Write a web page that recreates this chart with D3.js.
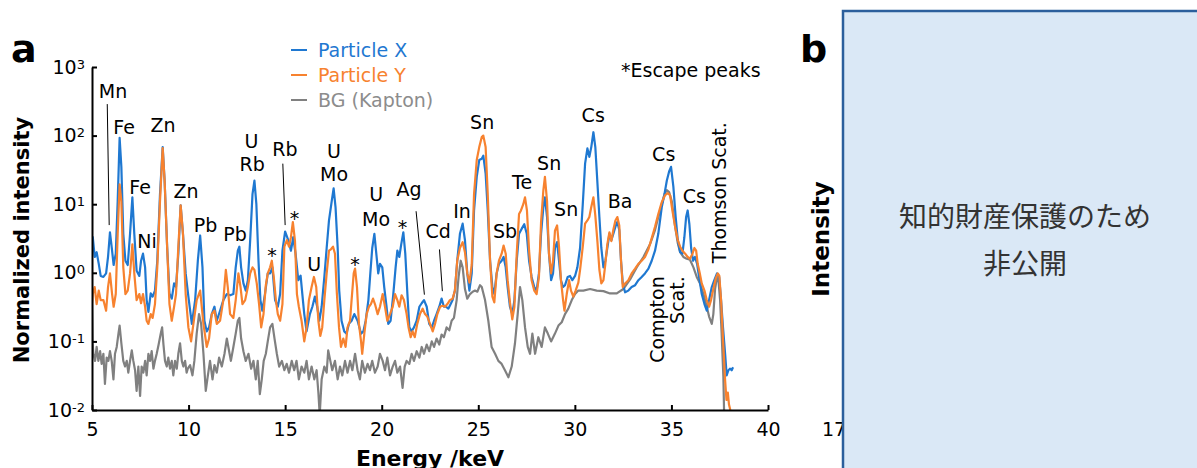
<!DOCTYPE html>
<html>
<head>
<meta charset="utf-8">
<script src="https://cdn.jsdelivr.net/npm/d3@7"></script>
<style>
  body { margin: 0; background: #fff; }
  svg { display: block; font-family: 'DejaVu Sans', Verdana, sans-serif; }
  .axis path, .axis line { stroke: #000; stroke-width: 2; }
  .axis text { font-size: 19px; fill: #000; }
  .peak { font-size: 19px; fill: #000; }
  .spectrum { fill: none; stroke-width: 2.2; stroke-linejoin: round; }
</style>
</head>
<body>
<div id="chart"></div>
<script>
// spectra: [energy keV, normalized intensity]
const particleX = [
  [5.00, 3.4], [5.04, 3.3], [5.14, 1.7], [5.24, 2.0], [5.35, 1.35], [5.45, 0.9], [5.59, 0.87], [5.73, 0.98],
  [5.83, 1.7], [5.93, 3.9], [6.04, 2.1], [6.12, 1.3], [6.23, 1.9], [6.33, 11], [6.43, 93], [6.52, 35],
  [6.62, 3.7], [6.73, 1.5], [6.85, 1.3], [6.97, 3.7], [7.09, 12.6], [7.19, 3.7], [7.31, 1.07], [7.45, 0.9],
  [7.54, 1.5], [7.64, 1.9], [7.75, 1.2], [7.83, 0.4], [7.92, 0.27], [8.04, 0.5], [8.14, 0.45], [8.26, 0.55],
  [8.38, 1.5], [8.52, 14], [8.66, 68], [8.76, 22], [8.89, 2.4], [9.01, 0.5], [9.13, 0.42], [9.25, 0.7],
  [9.35, 0.62], [9.47, 1.9], [9.59, 9.6], [9.71, 3.7], [9.85, 0.98], [9.99, 0.45], [10.17, 0.18], [10.34, 0.4],
  [10.48, 1.5], [10.60, 3.5], [10.72, 1.2], [10.82, 0.2], [10.94, 0.14], [11.06, 0.16], [11.20, 0.25], [11.34, 0.32],
  [11.46, 0.2], [11.63, 0.28], [11.80, 0.4], [11.98, 0.49], [12.15, 0.47], [12.32, 0.49], [12.44, 1.2], [12.55, 2.1],
  [12.63, 2.4], [12.72, 1.2], [12.84, 0.7], [12.96, 0.55], [13.07, 0.78], [13.19, 3.0], [13.31, 14], [13.41, 22],
  [13.51, 10], [13.62, 1.5], [13.72, 0.4], [13.82, 0.28], [13.96, 0.5], [14.10, 0.98], [14.22, 0.98], [14.34, 1.2],
  [14.48, 0.4], [14.62, 0.32], [14.74, 0.49], [14.86, 2.1], [15.00, 4.0], [15.16, 3.0], [15.30, 2.1], [15.42, 3.3],
  [15.54, 1.9], [15.68, 0.78], [15.80, 0.91], [15.89, 0.49], [15.99, 0.25], [16.11, 0.14], [16.28, 0.25], [16.41, 0.32],
  [16.54, 0.45], [16.66, 0.32], [16.77, 0.2], [16.89, 0.32], [17.03, 0.87], [17.15, 2.3], [17.27, 5.8], [17.41, 11],
  [17.51, 17], [17.61, 9], [17.72, 2.3], [17.80, 0.55], [17.92, 0.2], [18.06, 0.14], [18.18, 0.13], [18.30, 0.18],
  [18.44, 0.2], [18.58, 0.25], [18.75, 0.2], [18.93, 0.13], [19.05, 0.14], [19.17, 0.2], [19.31, 0.4], [19.41, 0.98],
  [19.51, 2.3], [19.62, 3.7], [19.72, 1.9], [19.82, 0.98], [19.91, 1.35], [20.03, 1.2], [20.13, 0.62], [20.25, 0.32],
  [20.34, 0.18], [20.46, 0.2], [20.60, 0.49], [20.72, 1.2], [20.81, 2.1], [20.91, 1.7], [21.01, 2.6], [21.12, 3.9],
  [21.22, 1.9], [21.33, 0.49], [21.43, 0.16], [21.55, 0.14], [21.67, 0.16], [21.81, 0.2], [21.95, 0.32], [22.07, 0.36],
  [22.19, 0.4], [22.33, 0.32], [22.46, 0.18], [22.59, 0.16], [22.71, 0.2], [22.84, 0.25], [22.98, 0.32], [23.10, 0.42],
  [23.22, 0.32], [23.33, 0.32], [23.45, 0.3], [23.57, 0.35], [23.67, 0.4], [23.79, 0.55], [23.91, 1.5], [24.05, 3.7],
  [24.19, 5.2], [24.31, 3.0], [24.43, 0.98], [24.54, 0.55], [24.66, 0.98], [24.78, 8.1], [24.92, 25], [25.05, 44],
  [25.18, 46], [25.26, 51], [25.38, 28], [25.49, 8.1], [25.61, 1.5], [25.73, 0.62], [25.83, 0.49], [25.95, 0.98],
  [26.07, 1.35], [26.21, 1.5], [26.31, 1.7], [26.42, 1.2], [26.52, 0.62], [26.64, 0.32], [26.76, 0.25], [26.87, 0.4],
  [26.99, 1.5], [27.11, 3.7], [27.25, 4.4], [27.38, 5.1], [27.51, 3.7], [27.63, 1.5], [27.76, 0.87], [27.90, 0.62],
  [28.02, 0.55], [28.14, 0.98], [28.25, 3.7], [28.37, 9.1], [28.45, 12.6], [28.56, 6.5], [28.66, 1.9], [28.77, 0.78],
  [28.87, 0.98], [28.97, 2.3], [29.08, 2.8], [29.18, 1.5], [29.28, 0.78], [29.39, 0.62], [29.49, 0.66], [29.63, 0.87],
  [29.75, 0.9], [29.87, 0.78], [30.01, 0.9], [30.13, 1.2], [30.27, 2.3], [30.41, 10], [30.53, 39], [30.65, 65],
  [30.75, 49], [30.85, 68], [30.96, 112], [31.06, 68], [31.17, 20], [31.27, 6.5], [31.37, 2.3], [31.48, 1.2],
  [31.58, 1.5], [31.68, 2.3], [31.79, 3.7], [31.89, 3.0], [31.99, 3.7], [32.10, 4.7], [32.20, 5.5], [32.30, 4.2],
  [32.39, 1.5], [32.48, 0.7], [32.60, 0.52], [32.77, 0.55], [32.94, 0.62], [33.12, 0.66], [33.29, 0.78], [33.46, 0.87],
  [33.63, 0.98], [33.81, 1.15], [33.98, 1.5], [34.15, 2.1], [34.32, 3.7], [34.50, 9.1], [34.64, 14], [34.76, 22],
  [34.88, 30], [34.98, 35], [35.10, 18], [35.22, 6.5], [35.33, 3.0], [35.45, 2.0], [35.57, 1.9], [35.67, 3.3],
  [35.76, 6.5], [35.84, 8.1], [35.93, 5.1], [36.02, 2.3], [36.12, 1.5], [36.22, 1.7], [36.33, 1.35], [36.43, 0.87],
  [36.57, 0.49], [36.71, 0.35], [36.83, 0.28], [36.95, 0.4], [37.09, 0.62], [37.22, 0.78], [37.36, 0.98], [37.47, 0.87],
  [37.57, 0.4], [37.67, 0.16], [37.78, 0.066], [37.86, 0.032], [37.95, 0.038], [38.04, 0.04], [38.12, 0.038], [38.19, 0.042]
];

const particleY = [
  [5.00, 0.35], [5.04, 0.49], [5.14, 0.62], [5.24, 0.35], [5.35, 0.55], [5.45, 0.4], [5.59, 0.4], [5.73, 0.28],
  [5.83, 0.62], [5.93, 0.98], [6.04, 0.49], [6.12, 0.32], [6.23, 0.49], [6.33, 3.7], [6.43, 19.5], [6.52, 11],
  [6.62, 1.2], [6.73, 0.49], [6.85, 0.55], [6.97, 0.98], [7.09, 2.6], [7.19, 0.98], [7.31, 0.4], [7.45, 0.49],
  [7.54, 0.36], [7.64, 0.49], [7.75, 0.32], [7.83, 0.2], [7.92, 0.18], [8.04, 0.25], [8.14, 0.22], [8.26, 0.35],
  [8.38, 1.2], [8.52, 11], [8.66, 66], [8.76, 22], [8.89, 2.4], [9.01, 0.35], [9.13, 0.2], [9.25, 0.32],
  [9.35, 0.49], [9.47, 2.4], [9.59, 9.6], [9.71, 3.7], [9.85, 0.49], [9.99, 0.16], [10.13, 0.1], [10.25, 0.18],
  [10.42, 0.4], [10.60, 0.55], [10.77, 0.18], [10.94, 0.083], [11.06, 0.11], [11.20, 0.25], [11.34, 0.28], [11.46, 0.18],
  [11.63, 0.2], [11.80, 0.4], [11.93, 1.1], [12.03, 0.62], [12.15, 0.25], [12.32, 0.22], [12.44, 0.4], [12.58, 0.98],
  [12.69, 0.62], [12.79, 0.35], [12.93, 0.4], [13.07, 0.62], [13.19, 0.98], [13.31, 1.2], [13.41, 1.1], [13.53, 0.7],
  [13.65, 0.35], [13.76, 0.16], [13.88, 0.25], [14.00, 0.66], [14.10, 0.98], [14.22, 1.2], [14.31, 1.5], [14.41, 0.87],
  [14.52, 0.4], [14.62, 0.25], [14.74, 0.2], [14.86, 0.35], [14.96, 2.4], [15.09, 3.0], [15.20, 2.4], [15.30, 3.3],
  [15.40, 5.5], [15.51, 2.9], [15.61, 0.49], [15.71, 0.32], [15.85, 0.2], [15.99, 0.1], [16.11, 0.16], [16.23, 0.4],
  [16.37, 0.62], [16.49, 0.87], [16.61, 0.62], [16.72, 0.2], [16.82, 0.12], [16.92, 0.16], [17.03, 0.4], [17.15, 0.98],
  [17.27, 2.1], [17.37, 2.2], [17.48, 2.4], [17.58, 1.9], [17.68, 0.49], [17.79, 0.16], [17.89, 0.083], [18.01, 0.11],
  [18.13, 0.083], [18.23, 0.16], [18.36, 0.2], [18.44, 0.4], [18.55, 0.98], [18.62, 1.15], [18.72, 0.62], [18.82, 0.18],
  [18.93, 0.1], [18.99, 0.066], [19.10, 0.13], [19.22, 0.25], [19.34, 0.32], [19.44, 0.35], [19.55, 0.42], [19.65, 0.35],
  [19.79, 0.25], [19.91, 0.32], [20.05, 0.49], [20.17, 0.32], [20.29, 0.2], [20.43, 0.25], [20.57, 0.32], [20.69, 0.49],
  [20.81, 0.4], [20.91, 0.32], [21.03, 0.47], [21.15, 0.4], [21.29, 0.25], [21.39, 0.16], [21.50, 0.115], [21.60, 0.14],
  [21.71, 0.115], [21.84, 0.18], [21.98, 0.25], [22.12, 0.3], [22.24, 0.25], [22.36, 0.23], [22.50, 0.18], [22.64, 0.14],
  [22.76, 0.18], [22.88, 0.25], [23.02, 0.32], [23.15, 0.33], [23.28, 0.32], [23.40, 0.35], [23.53, 0.4], [23.67, 0.42],
  [23.79, 0.55], [23.91, 1.5], [24.05, 2.3], [24.19, 2.8], [24.31, 2.0], [24.43, 0.98], [24.54, 0.72], [24.66, 1.3],
  [24.78, 14], [24.92, 44], [25.05, 68], [25.18, 95], [25.26, 100], [25.38, 68], [25.49, 14], [25.61, 1.5],
  [25.73, 0.45], [25.83, 0.37], [25.95, 0.98], [26.07, 1.5], [26.21, 1.9], [26.31, 2.5], [26.42, 1.9], [26.52, 0.78],
  [26.64, 0.37], [26.76, 0.21], [26.87, 0.32], [26.99, 1.9], [27.11, 7.2], [27.21, 8.1], [27.33, 10], [27.42, 12.6],
  [27.52, 8.1], [27.63, 2.1], [27.76, 0.78], [27.90, 0.55], [28.02, 0.49], [28.14, 0.87], [28.25, 5.5], [28.37, 16],
  [28.45, 25], [28.56, 11], [28.66, 1.9], [28.77, 0.98], [28.87, 1.5], [28.97, 4.1], [29.08, 4.9], [29.18, 2.4],
  [29.28, 0.78], [29.39, 0.4], [29.46, 0.28], [29.58, 0.49], [29.70, 0.78], [29.80, 0.55], [29.92, 0.45], [30.04, 0.55],
  [30.18, 0.72], [30.27, 1.1], [30.41, 2.4], [30.53, 5.2], [30.65, 5.8], [30.75, 6.5], [30.85, 9.1], [30.96, 12.6],
  [31.06, 6.8], [31.17, 2.8], [31.27, 1.1], [31.37, 0.7], [31.48, 0.78], [31.58, 1.35], [31.68, 2.6], [31.79, 3.9],
  [31.89, 2.9], [31.99, 4.2], [32.10, 5.8], [32.20, 6.5], [32.30, 4.9], [32.39, 1.5], [32.48, 0.62], [32.60, 0.7],
  [32.77, 0.78], [32.94, 0.98], [33.12, 1.15], [33.29, 1.35], [33.46, 1.5], [33.63, 1.7], [33.81, 2.2], [33.98, 3.2],
  [34.15, 4.7], [34.32, 7.2], [34.50, 10.7], [34.67, 13.5], [34.81, 14.5], [34.93, 13.5], [35.05, 8.1], [35.19, 4.7],
  [35.33, 3.0], [35.45, 2.4], [35.57, 2.1], [35.71, 1.9], [35.84, 1.7], [35.96, 1.6], [36.09, 1.9], [36.19, 2.3],
  [36.28, 2.1], [36.36, 1.35], [36.47, 0.98], [36.57, 0.7], [36.71, 0.55], [36.83, 0.4], [36.95, 0.32], [37.05, 0.4],
  [37.17, 0.58], [37.29, 0.82], [37.40, 0.98], [37.48, 0.9], [37.57, 0.4], [37.64, 0.16], [37.71, 0.066], [37.78, 0.027],
  [37.85, 0.014], [37.92, 0.018], [37.98, 0.012], [38.05, 0.01]
];

const background = [
  [5.00, 0.35], [5.03, 0.1], [5.07, 0.066], [5.16, 0.052], [5.24, 0.083], [5.33, 0.052], [5.42, 0.072], [5.50, 0.047],
  [5.59, 0.066], [5.67, 0.024], [5.76, 0.058], [5.85, 0.052], [5.93, 0.072], [6.02, 0.052], [6.11, 0.028], [6.19, 0.066],
  [6.28, 0.083], [6.37, 0.13], [6.43, 0.17], [6.52, 0.094], [6.62, 0.052], [6.71, 0.043], [6.80, 0.052], [6.88, 0.035],
  [6.97, 0.052], [7.06, 0.074], [7.14, 0.052], [7.23, 0.038], [7.31, 0.019], [7.40, 0.043], [7.49, 0.016], [7.57, 0.043],
  [7.66, 0.035], [7.75, 0.052], [7.83, 0.032], [7.92, 0.066], [8.01, 0.052], [8.09, 0.072], [8.18, 0.04], [8.26, 0.052],
  [8.35, 0.066], [8.45, 0.09], [8.56, 0.13], [8.63, 0.16], [8.70, 0.09], [8.78, 0.052], [8.87, 0.043], [8.95, 0.058],
  [9.04, 0.04], [9.13, 0.052], [9.21, 0.032], [9.30, 0.052], [9.39, 0.04], [9.47, 0.066], [9.56, 0.094], [9.65, 0.052],
  [9.73, 0.043], [9.82, 0.052], [9.90, 0.035], [9.96, 0.04], [10.08, 0.045], [10.20, 0.032], [10.30, 0.052], [10.42, 0.13],
  [10.54, 0.25], [10.65, 0.18], [10.77, 0.066], [10.89, 0.019], [11.00, 0.032], [11.11, 0.052], [11.24, 0.028], [11.34, 0.045],
  [11.46, 0.035], [11.58, 0.058], [11.72, 0.043], [11.86, 0.066], [11.98, 0.11], [12.06, 0.083], [12.19, 0.052], [12.32, 0.083],
  [12.44, 0.13], [12.55, 0.2], [12.63, 0.22], [12.72, 0.11], [12.84, 0.072], [12.96, 0.052], [13.10, 0.066], [13.24, 0.04],
  [13.36, 0.052], [13.48, 0.028], [13.58, 0.052], [13.69, 0.017], [13.79, 0.028], [13.89, 0.052], [14.00, 0.066], [14.10, 0.1],
  [14.22, 0.16], [14.34, 0.18], [14.45, 0.11], [14.57, 0.066], [14.69, 0.043], [14.83, 0.052], [14.96, 0.038], [15.08, 0.047],
  [15.20, 0.035], [15.34, 0.052], [15.47, 0.038], [15.59, 0.052], [15.71, 0.028], [15.85, 0.043], [15.99, 0.035], [16.11, 0.052],
  [16.23, 0.028], [16.37, 0.043], [16.51, 0.028], [16.63, 0.038], [16.72, 0.018], [16.79, 0.0085], [16.89, 0.028], [17.03, 0.043],
  [17.15, 0.035], [17.23, 0.074], [17.34, 0.052], [17.44, 0.038], [17.58, 0.052], [17.72, 0.028], [17.84, 0.043], [17.96, 0.032],
  [18.10, 0.052], [18.23, 0.035], [18.36, 0.052], [18.48, 0.038], [18.62, 0.066], [18.75, 0.038], [18.87, 0.028], [18.99, 0.052],
  [19.13, 0.035], [19.27, 0.047], [19.39, 0.038], [19.51, 0.052], [19.65, 0.035], [19.79, 0.043], [19.91, 0.066], [20.05, 0.052],
  [20.17, 0.038], [20.29, 0.058], [20.43, 0.032], [20.57, 0.043], [20.69, 0.052], [20.81, 0.035], [20.95, 0.043], [21.08, 0.021],
  [21.19, 0.043], [21.29, 0.052], [21.43, 0.047], [21.55, 0.066], [21.67, 0.052], [21.81, 0.072], [21.95, 0.058], [22.07, 0.083],
  [22.19, 0.066], [22.33, 0.09], [22.46, 0.072], [22.59, 0.1], [22.71, 0.083], [22.84, 0.11], [22.98, 0.09], [23.10, 0.126],
  [23.22, 0.115], [23.36, 0.16], [23.50, 0.145], [23.62, 0.2], [23.74, 0.22], [23.88, 0.4], [23.98, 0.87], [24.09, 1.5],
  [24.19, 1.2], [24.31, 0.58], [24.43, 0.42], [24.57, 0.49], [24.71, 0.53], [24.83, 0.55], [24.95, 0.53], [25.09, 0.66],
  [25.18, 0.62], [25.35, 0.4], [25.52, 0.2], [25.69, 0.083], [25.87, 0.066], [26.04, 0.052], [26.21, 0.047], [26.38, 0.038],
  [26.56, 0.03], [26.73, 0.043], [26.90, 0.094], [27.04, 0.25], [27.16, 0.62], [27.28, 0.4], [27.42, 0.16], [27.56, 0.083],
  [27.68, 0.066], [27.80, 0.13], [27.94, 0.066], [28.11, 0.115], [28.28, 0.083], [28.45, 0.16], [28.60, 0.13], [28.77, 0.1],
  [28.97, 0.13], [29.15, 0.17], [29.32, 0.19], [29.49, 0.25], [29.66, 0.3], [29.84, 0.4], [30.01, 0.49], [30.18, 0.55],
  [30.44, 0.55], [30.79, 0.58], [31.13, 0.55], [31.48, 0.54], [31.82, 0.5], [32.17, 0.5], [32.51, 0.58], [32.86, 0.8],
  [33.20, 1.2], [33.55, 1.7], [33.89, 2.6], [34.15, 4.2], [34.41, 8.1], [34.64, 14], [34.76, 16], [34.88, 15],
  [35.02, 11], [35.19, 4.7], [35.33, 2.7], [35.45, 2.0], [35.62, 1.7], [35.79, 1.6], [35.96, 1.55], [36.14, 1.2],
  [36.31, 0.87], [36.48, 0.7], [36.66, 0.49], [36.83, 0.32], [36.95, 0.23], [37.09, 0.18], [37.17, 0.25], [37.26, 0.58],
  [37.36, 0.87], [37.43, 0.8], [37.52, 0.4], [37.60, 0.13], [37.69, 0.03], [37.74, 0.006]
];

const seriesNames = ['Particle X', 'Particle Y', 'BG (Kapton)'];
const seriesColors = ['#1f78d1', '#f7822f', '#808080'];
const legendTextColors = ['#1f78d1', '#f7822f', '#8c8c8c'];

const xTicks = [5, 10, 15, 20, 25, 30, 35, 40];
const yTicks = [0.01, 0.1, 1, 10, 100, 1000];
const yTickExponents = ['-2', '-1', '0', '1', '2', '3'];

// peak names: [text, energy, intensity at the text baseline]
const peakLabels = [
  ['Mn', 6.09, 355], ['Fe', 6.66, 107], ['Zn', 8.68, 114], ['Fe', 7.49, 14.2], ['Zn', 9.87, 12.3],
  ['Ni', 7.85, 2.3], ['Pb', 10.88, 3.9], ['Pb', 12.41, 2.9], ['U', 13.26, 66], ['Rb', 13.29, 30],
  ['Rb', 14.99, 51], ['*', 14.32, 1.45], ['*', 15.49, 4.9], ['U', 16.5, 1.06], ['U', 17.53, 47],
  ['Mo', 17.53, 21.8], ['*', 18.62, 1.08], ['U', 19.71, 11.1], ['Mo', 19.71, 4.8], ['*', 21.08, 3.7],
  ['Ag', 21.42, 13.1], ['Cd', 22.92, 3.2], ['In', 24.16, 6.3], ['Sn', 25.2, 123], ['Sb', 26.39, 3.2],
  ['Te', 27.27, 16.4], ['Sn', 28.67, 32], ['Sn', 29.55, 6.7], ['Cs', 30.95, 158], ['Ba', 32.34, 8.7],
  ['Cs', 34.6, 42], ['Cs', 36.18, 10.3]
];

// leader lines: [energy1, intensity1, energy2, intensity2]
const leaderLines = [
  [5.79, 288, 5.89, 4.96],
  [14.88, 39, 15.0, 4.96],
  [21.78, 7.9, 22.21, 0.48],
  [22.99, 2.19, 23.14, 0.54]
];

// rotated notes: [text, energy at baseline, intensity, anchor]
const scatterLabels = [
  ['Thomson Scat.', 37.81, 1.38, 'start'],
  ['Compton', 34.62, 0.89, 'end'],
  ['Scat.', 35.66, 0.89, 'end']
];

const width = 1197;
const height = 468;

const svg = d3.select('#chart').append('svg')
  .attr('width', width)
  .attr('height', height);

// scales
const x = d3.scaleLinear().domain([5, 40]).range([92, 768]);
const y = d3.scaleLog().domain([0.01, 1000]).range([410, 67]);

svg.append('clipPath').attr('id', 'plot-clip')
  .append('rect')
  .attr('x', x.range()[0])
  .attr('y', 40)
  .attr('width', x.range()[1] - x.range()[0])
  .attr('height', y.range()[0] - 40);

// spectra, background first
const line = d3.line()
  .x(d => x(d[0]))
  .y(d => y(Math.max(d[1], 0.004)));

const $lines = svg.append('g').attr('clip-path', 'url(#plot-clip)');
[[background, 2], [particleX, 0], [particleY, 1]].forEach(([data, i]) => {
  $lines.append('path')
    .datum(data)
    .attr('class', 'spectrum')
    .attr('stroke', seriesColors[i])
    .attr('d', line);
});

// axes
svg.append('g')
  .attr('class', 'axis')
  .attr('transform', `translate(0,${y.range()[0]})`)
  .call(d3.axisBottom(x).tickValues(xTicks).tickSizeInner(-5).tickSizeOuter(0).tickPadding(13))
  .attr('font-family', null)
  .attr('font-size', null);

const $yAxis = svg.append('g')
  .attr('class', 'axis')
  .attr('transform', `translate(${x.range()[0]},0)`)
  .call(d3.axisLeft(y).tickValues(yTicks).tickFormat('').tickSizeInner(-5).tickSizeOuter(0).tickPadding(7))
  .attr('font-family', null)
  .attr('font-size', null);

$yAxis.selectAll('.tick text').each(function (d, i) {
  const $t = d3.select(this);
  $t.append('tspan').text('10');
  $t.append('tspan').attr('dy', -5).attr('font-size', 13).text(yTickExponents[i]);
});

// axis titles
svg.append('text')
  .attr('transform', 'translate(28.5,240) rotate(-90)')
  .attr('text-anchor', 'middle')
  .attr('font-size', 21)
  .attr('font-weight', 'bold')
  .text('Normalized intensity');

svg.append('text')
  .attr('x', (x.range()[0] + x.range()[1]) / 2)
  .attr('y', 466)
  .attr('text-anchor', 'middle')
  .attr('font-size', 22)
  .attr('font-weight', 'bold')
  .text('Energy /keV');

// panel letter
svg.append('text')
  .attr('x', 11)
  .attr('y', 62)
  .attr('font-size', 38)
  .attr('font-weight', 'bold')
  .text('a');

// legend
const $legend = svg.append('g').attr('class', 'legend');
seriesNames.forEach((name, i) => {
  const cy = 50 + i * 25;
  $legend.append('line')
    .attr('x1', 291).attr('x2', 307)
    .attr('y1', cy).attr('y2', cy)
    .attr('stroke', seriesColors[i])
    .attr('stroke-width', 2);
  $legend.append('text')
    .attr('x', 318)
    .attr('y', cy + 7)
    .attr('font-size', 19)
    .attr('fill', legendTextColors[i])
    .text(name);
});

svg.append('text')
  .attr('x', 621)
  .attr('y', 77)
  .attr('font-size', 19)
  .text('*Escape peaks');

// annotations
svg.append('g').selectAll('text')
  .data(peakLabels)
  .join('text')
  .attr('class', 'peak')
  .attr('x', d => x(d[1]))
  .attr('y', d => y(d[2]))
  .attr('text-anchor', 'middle')
  .text(d => d[0]);

svg.append('g').selectAll('line')
  .data(leaderLines)
  .join('line')
  .attr('x1', d => x(d[0]))
  .attr('y1', d => y(d[1]))
  .attr('x2', d => x(d[2]))
  .attr('y2', d => y(d[3]))
  .attr('stroke', '#000')
  .attr('stroke-width', 1);

svg.append('g').selectAll('text')
  .data(scatterLabels)
  .join('text')
  .attr('class', 'peak')
  .attr('transform', d => `translate(${x(d[1])},${y(d[2])}) rotate(-90)`)
  .attr('text-anchor', d => d[3])
  .text(d => d[0]);

// panel b (withheld)
svg.append('text')
  .attr('x', 822)
  .attr('y', 436)
  .attr('font-size', 19)
  .text('17');

svg.append('text')
  .attr('transform', 'translate(829,239) rotate(-90)')
  .attr('text-anchor', 'middle')
  .attr('font-size', 23)
  .attr('font-weight', 'bold')
  .text('Intensity');

svg.append('rect')
  .attr('x', 843)
  .attr('y', 11)
  .attr('width', 400)
  .attr('height', 500)
  .attr('fill', '#dae8f6')
  .attr('stroke', '#2b5f9c')
  .attr('stroke-width', 2.5);

svg.append('text')
  .attr('x', 1025)
  .attr('y', 227)
  .attr('text-anchor', 'middle')
  .attr('font-family', "'Noto Sans CJK JP', sans-serif")
  .attr('font-size', 28)
  .attr('fill', '#333')
  .text('知的財産保護のため');

svg.append('text')
  .attr('x', 1025)
  .attr('y', 274)
  .attr('text-anchor', 'middle')
  .attr('font-family', "'Noto Sans CJK JP', sans-serif")
  .attr('font-size', 28)
  .attr('fill', '#333')
  .text('非公開');

svg.append('text')
  .attr('x', 800)
  .attr('y', 62)
  .attr('font-size', 38)
  .attr('font-weight', 'bold')
  .text('b');
</script>
</body>
</html>
